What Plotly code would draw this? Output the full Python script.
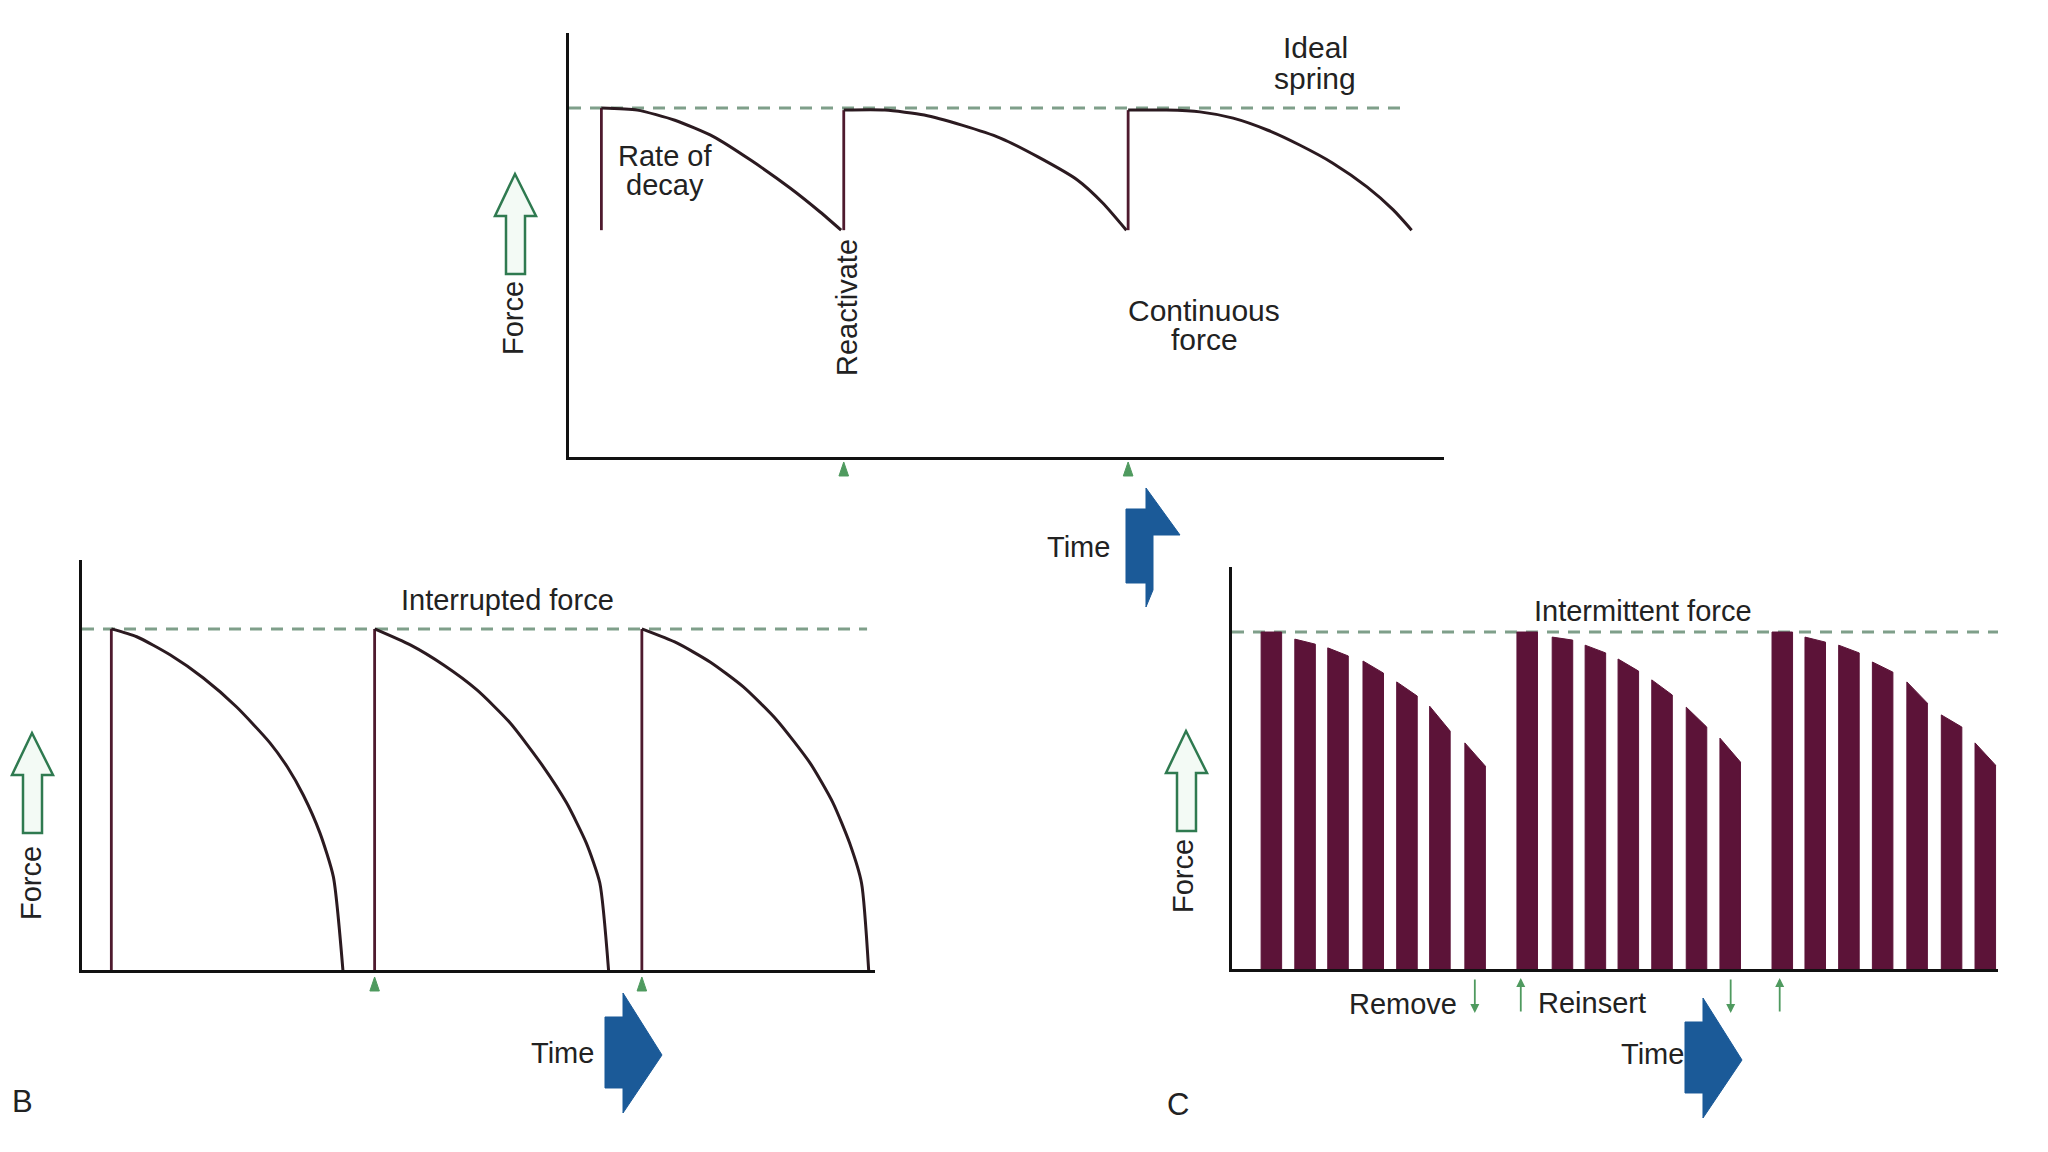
import plotly.graph_objects as go

W, H = 2048, 1152

# ---------------- DATA ----------------
IDEAL_FORCE = 100

# Panel A - continuous force (time units 0-100, ideal force = 100)
a_first_low = 65.0
a_cycle1_t = [3.7, 7.8, 12.1, 16.5, 20.8, 25.3, 28.7, 31.1]
a_cycle1_f = [100, 99.4, 96.5, 91.8, 85.0, 77.0, 70.2, 65.0]
a_cycle2_t = [31.4, 36.1, 40.6, 44.9, 49.3, 53.6, 58.1, 61.0, 63.7]
a_cycle2_f = [99.4, 99.4, 98.0, 95.1, 91.4, 86.0, 79.4, 72.8, 65.0]
a_cycle3_t = [63.9, 68.3, 72.1, 75.9, 79.8, 83.5, 87.3, 91.2, 94.2, 96.3]
a_cycle3_f = [99.4, 99.4, 98.9, 97.1, 93.7, 89.4, 84.2, 77.4, 70.8, 65.0]
a_reactivate = [31.4, 63.9]

# Panel B - interrupted force
b_cycle1_t = [3.7, 6.9, 11.1, 15.3, 19.5, 23.7, 25.9, 27.9, 30.0, 31.7, 32.9]
b_cycle1_f = [100, 97.7, 92.4, 85.6, 77.1, 66.6, 59.5, 51.3, 40.2, 27.3, 0]
b_cycle2_t = [36.9, 41.4, 45.6, 49.8, 54.0, 58.2, 61.1, 63.6, 65.3, 66.4]
b_cycle2_f = [100, 95.3, 89.4, 82.1, 72.4, 59.5, 49.0, 37.2, 25.5, 0]
b_cycle3_t = [70.6, 75.0, 79.2, 83.4, 87.6, 91.8, 94.7, 96.8, 98.3, 99.2]
b_cycle3_f = [100, 95.9, 90.3, 83.0, 73.3, 60.7, 49.0, 37.2, 25.5, 0]
b_reactivate = [36.9, 70.6]

# Panel C - intermittent force (each bar: wear period; force at start/end)
c_bar_start = [
    [3.8, 8.2, 12.5, 17.1, 21.5, 25.8, 30.4],
    [37.2, 41.8, 46.1, 50.4, 54.8, 59.3, 63.7],
    [70.5, 74.8, 79.2, 83.6, 88.1, 92.6, 97.0],
]
c_force_start = [
    [100, 97.9, 95.3, 91.4, 85.2, 78.0, 67.1],
    [100, 98.5, 96.1, 92.0, 85.8, 77.7, 68.5],
    [100, 98.5, 96.1, 91.1, 85.2, 75.4, 67.1],
]
c_force_end = [
    [100, 96.4, 92.9, 87.8, 81.0, 70.6, 60.2],
    [100, 97.6, 93.8, 88.4, 81.3, 71.8, 61.4],
    [100, 97.0, 93.8, 88.1, 78.9, 71.8, 60.5],
]
c_remove = [31.7, 65.1]
c_reinsert = [37.7, 71.5]

# ---------------- STYLE ----------------
BAR_W = 2.68
CURVE = "#2b1a20"
VERT = "#4e1a2e"
BAR = "#5c1338"
DASH = "#7f9f8a"
GREEN = "#4f9a5f"
BLUE = "#1b5a98"
TXT = "#222222"
FONT = "Liberation Sans, Arial, sans-serif"

fig = go.Figure()


def line(x, y, xa, ya, color, width, dash=None, shape="linear", smoothing=0.7):
    fig.add_trace(go.Scatter(
        x=x, y=y, mode="lines", xaxis=xa, yaxis=ya, hoverinfo="skip",
        line=dict(color=color, width=width, dash=dash, shape=shape, smoothing=smoothing),
        showlegend=False))


# Panel A
line([0, 95.4], [IDEAL_FORCE, IDEAL_FORCE], "x", "y", DASH, 3, "12px,9px")
lows = [a_first_low, a_cycle1_f[-1], a_cycle2_f[-1]]
for (t, f), low in zip([(a_cycle1_t, a_cycle1_f), (a_cycle2_t, a_cycle2_f),
                        (a_cycle3_t, a_cycle3_f)], lows):
    line([t[0], t[0]], [low, f[0]], "x", "y", VERT, 2.8)
    line(t, f, "x", "y", CURVE, 3, shape="spline", smoothing=0.6)

# Panel B
line([0, 99], [IDEAL_FORCE, IDEAL_FORCE], "x2", "y2", DASH, 3, "12px,9px")
for t, f in [(b_cycle1_t, b_cycle1_f), (b_cycle2_t, b_cycle2_f), (b_cycle3_t, b_cycle3_f)]:
    line([t[0], t[0]], [0, f[0]], "x2", "y2", VERT, 2.8)
    line(t, f, "x2", "y2", CURVE, 3, shape="spline", smoothing=0.6)

# Panel C
line([0, 100], [IDEAL_FORCE, IDEAL_FORCE], "x3", "y3", DASH, 3, "12px,9px")
for starts, f0s, f1s in zip(c_bar_start, c_force_start, c_force_end):
    for s, f0, f1 in zip(starts, f0s, f1s):
        fig.add_trace(go.Scatter(
            x=[s, s, s + BAR_W, s + BAR_W, s], y=[0, f0, f1, 0, 0],
            mode="lines", fill="toself", fillcolor=BAR, line=dict(color=BAR, width=1),
            xaxis="x3", yaxis="y3", hoverinfo="skip", showlegend=False))

# ---------------- AXES ----------------
def px_x(px):
    return px / W


def px_y(py):
    return 1 - py / H


axis_common = dict(showline=True, linecolor="#111111", linewidth=3, showgrid=False,
                   zeroline=False, showticklabels=False, ticks="", fixedrange=True)

fig.update_layout(
    xaxis=dict(domain=[px_x(569), px_x(1444)], range=[0, 100], anchor="y", **axis_common),
    yaxis=dict(domain=[px_y(457), px_y(33)], range=[0, 121.5], anchor="x", **axis_common),
    xaxis2=dict(domain=[px_x(82), px_x(875)], range=[0, 100], anchor="y2", **axis_common),
    yaxis2=dict(domain=[px_y(970), px_y(560)], range=[0, 120.2], anchor="x2", **axis_common),
    xaxis3=dict(domain=[px_x(1232), px_x(1998)], range=[0, 100], anchor="y3", **axis_common),
    yaxis3=dict(domain=[px_y(969), px_y(567)], range=[0, 119.3], anchor="x3", **axis_common),
)

# ---------------- TEXT ----------------
ann = []


def text(t, px, py, size=29, angle=0, xanchor="center"):
    ann.append(dict(text=t, x=px_x(px), y=px_y(py), xref="paper", yref="paper",
                    showarrow=False, textangle=angle, xanchor=xanchor, yanchor="middle",
                    font=dict(family=FONT, size=size, color=TXT)))


text("Ideal", 1315, 47, size=30)
text("spring", 1315, 78, size=30)
text("Rate of", 665, 156, size=29)
text("decay", 665, 185, size=29)
text("Reactivate", 847, 308, angle=-90)
text("Continuous", 1204, 310, size=30)
text("force", 1204, 340, size=30)
text("Force", 513, 318, angle=-90)
text("Time", 1078, 547)

text("Interrupted force", 507, 600)
text("Force", 31, 883, angle=-90)
text("Time", 562, 1053)
text("B", 22, 1101, size=31)

text("Intermittent force", 1643, 611)
text("Force", 1183, 876, angle=-90)
text("Remove", 1459, 1004, xanchor="right")
text("Reinsert", 1536, 1003, xanchor="left")
text("Time", 1652, 1054)
text("C", 1178, 1104, size=31)

for t in c_remove:
    ann.append(dict(x=t, y=px_y(1013), xref="x3", yref="paper", text="", showarrow=True,
                    ax=0, ay=-35, arrowhead=2, arrowsize=1, arrowwidth=1.8,
                    arrowcolor=GREEN))
for t in c_reinsert:
    ann.append(dict(x=t, y=px_y(978), xref="x3", yref="paper", text="", showarrow=True,
                    ax=0, ay=35, arrowhead=2, arrowsize=1, arrowwidth=1.8,
                    arrowcolor=GREEN))

# ---------------- DECORATIVE ARROWS / MARKERS ----------------
def path(pts):
    return "M " + " L ".join(f"{px_x(a):.5f},{px_y(b):.5f}" for a, b in pts) + " Z"


shapes = []
# reactivation ticks (small green triangles under the time axis)
for xa, times, half, top in [("x", a_reactivate, 0.55, 462), ("x2", b_reactivate, 0.6, 977)]:
    for t in times:
        p = (f"M {t - half},{px_y(top + 14):.5f} L {t},{px_y(top):.5f} "
             f"L {t + half},{px_y(top + 14):.5f} Z")
        shapes.append(dict(type="path", xref=xa, yref="paper", path=p,
                           fillcolor=GREEN, line=dict(color=GREEN, width=1)))

hollow = [(20, 0), (41, 42), (30, 42), (30, 100), (11, 100), (11, 42), (0, 42)]
for ox, oy in [(495, 174), (12, 733), (1166, 731)]:
    shapes.append(dict(type="path", xref="paper", yref="paper",
                       path=path([(ox + a, oy + b) for a, b in hollow]),
                       fillcolor="#f3faf5", line=dict(color="#2f7a50", width=2.5)))

blue = [(0, 24), (18, 24), (18, 0), (57, 62), (18, 120), (18, 95), (0, 95)]
for ox, oy in [(605, 993), (1685, 998)]:
    shapes.append(dict(type="path", xref="paper", yref="paper",
                       path=path([(ox + a, oy + b) for a, b in blue]),
                       fillcolor=BLUE, line=dict(color=BLUE, width=1)))
blue_cut = [(1126, 509), (1146, 509), (1146, 488), (1180, 535), (1153, 535),
            (1153, 590), (1146, 607), (1146, 583), (1126, 583)]
shapes.append(dict(type="path", xref="paper", yref="paper", path=path(blue_cut),
                   fillcolor=BLUE, line=dict(color=BLUE, width=1)))

fig.update_layout(
    width=W, height=H, autosize=False,
    margin=dict(l=0, r=0, t=0, b=0),
    paper_bgcolor="white", plot_bgcolor="white",
    annotations=ann, shapes=shapes, showlegend=False,
)

fig.write_html("out.html", post_script="document.body.style.margin='0';",
               config={"displayModeBar": False})
